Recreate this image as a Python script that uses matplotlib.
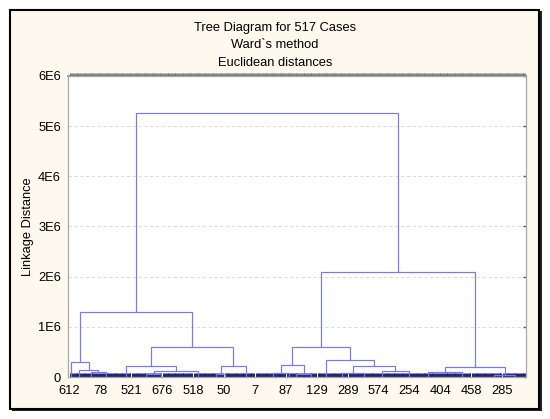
import matplotlib
matplotlib.use("Agg")
import matplotlib.pyplot as plt
from matplotlib.patches import Rectangle
from matplotlib.ticker import FuncFormatter

FONT = "Liberation Sans"
CREAM = "#fdf9ee"
LINK = "#7676ff"

N_CASES = 517

# case rank (position along the leaf order) of each terminal sub-cluster
leaf_rank = [2, 11, 24, 41, 64, 87, 104, 146, 166, 176, 200, 230,
             248, 257, 274, 290, 309, 334, 354, 384, 406, 444, 481, 505]

# merges: (left id, right id, linkage distance); ids >= len(leaf_rank) are earlier merges
merges = [
    (2, 3, 0.105e6), (1, 24, 0.145e6), (0, 25, 0.29e6),
    (5, 6, 0.065e6), (27, 7, 0.12e6), (4, 28, 0.225e6),
    (8, 9, 0.065e6), (30, 10, 0.225e6), (29, 31, 0.59e6),
    (26, 32, 1.30e6),
    (11, 12, 0.075e6), (13, 14, 0.06e6), (34, 35, 0.23e6),
    (16, 17, 0.07e6), (18, 19, 0.11e6), (37, 38, 0.21e6),
    (15, 39, 0.34e6), (36, 40, 0.59e6),
    (20, 21, 0.10e6), (22, 23, 0.045e6), (42, 43, 0.19e6),
    (41, 44, 2.09e6),
    (33, 45, 5.27e6),
]

label_rank = list(range(0, 491, 35))
case_labels = ["612", "78", "521", "676", "518", "50", "7", "87", "129",
               "289", "574", "254", "404", "458", "285"]

fig = plt.figure(figsize=(5.5, 4.19), dpi=100)
fig.patch.set_facecolor("white")

# cream panel with black frame and drop shadow
fig.add_artist(Rectangle((12 / 550, 1 - 411 / 419), 530 / 550, 400 / 419,
                         transform=fig.transFigure, facecolor="#222222",
                         edgecolor="none", zorder=-2))
fig.add_artist(Rectangle((10 / 550, 1 - 409 / 419), 529 / 550, 399 / 419,
                         transform=fig.transFigure, facecolor=CREAM,
                         edgecolor="black", linewidth=1.5, zorder=-1))

ax = fig.add_axes([68 / 550, 1 - 377 / 419, 457.7 / 550, 301 / 419])
ax.set_facecolor("white")

# dendrogram links
pos = list(leaf_rank)
hgt = [0.0] * len(leaf_rank)
for a, b, d in merges:
    ax.plot([pos[a], pos[a], pos[b], pos[b]], [hgt[a], d, d, hgt[b]],
            color=LINK, linewidth=0.85, zorder=3, solid_joinstyle="miter")
    pos.append((pos[a] + pos[b]) / 2)
    hgt.append(d)

ax.set_xlim(-1.7, N_CASES - 0.4)
ax.set_ylim(0, 6e6)

ax.yaxis.grid(True, linestyle=(0, (4, 3)), linewidth=0.6, color="#d6d6d6")
ax.set_axisbelow(True)

ax.set_yticks([0, 1e6, 2e6, 3e6, 4e6, 5e6, 6e6])
ax.yaxis.set_major_formatter(FuncFormatter(
    lambda v, p: "0" if v == 0 else f"{int(round(v / 1e6))}E6"))
ax.tick_params(axis="y", left=False, right=True, direction="in", length=2.5,
               width=1, color="#555555", pad=5, labelsize=9.3)

ax.set_xticks(label_rank)
ax.set_xticklabels(case_labels)
ax.set_xticks(range(N_CASES), minor=True)
ax.tick_params(axis="x", which="major", length=0, pad=6, labelsize=9.3)
ax.tick_params(axis="x", which="minor", bottom=True, direction="in",
               length=2.6, width=0.7, color="#1f1f70")

top = ax.secondary_xaxis("top")
top.set_xticks(range(N_CASES))
top.tick_params(direction="out", length=2, width=0.6, color="#707070",
                labeltop=False)
top.spines["top"].set_color("#7a7a7a")
top.spines["top"].set_linewidth(1.2)

for s in ax.spines.values():
    s.set_color("#a8a8a8")
    s.set_linewidth(0.9)

for lab in ax.get_xticklabels() + ax.get_yticklabels():
    lab.set_fontfamily(FONT)
    lab.set_color("black")

ax.set_ylabel("Linkage Distance", fontsize=9.3, fontfamily=FONT, labelpad=3)

for i, line in enumerate(["Tree Diagram for 517 Cases", "Ward`s method",
                          "Euclidean distances"]):
    fig.text(275 / 550, 1 - (28 + i * 17.5) / 419, line, fontsize=9.3,
             fontfamily=FONT, ha="center", va="center")

fig.savefig("out.png", dpi=100, facecolor=fig.get_facecolor())
